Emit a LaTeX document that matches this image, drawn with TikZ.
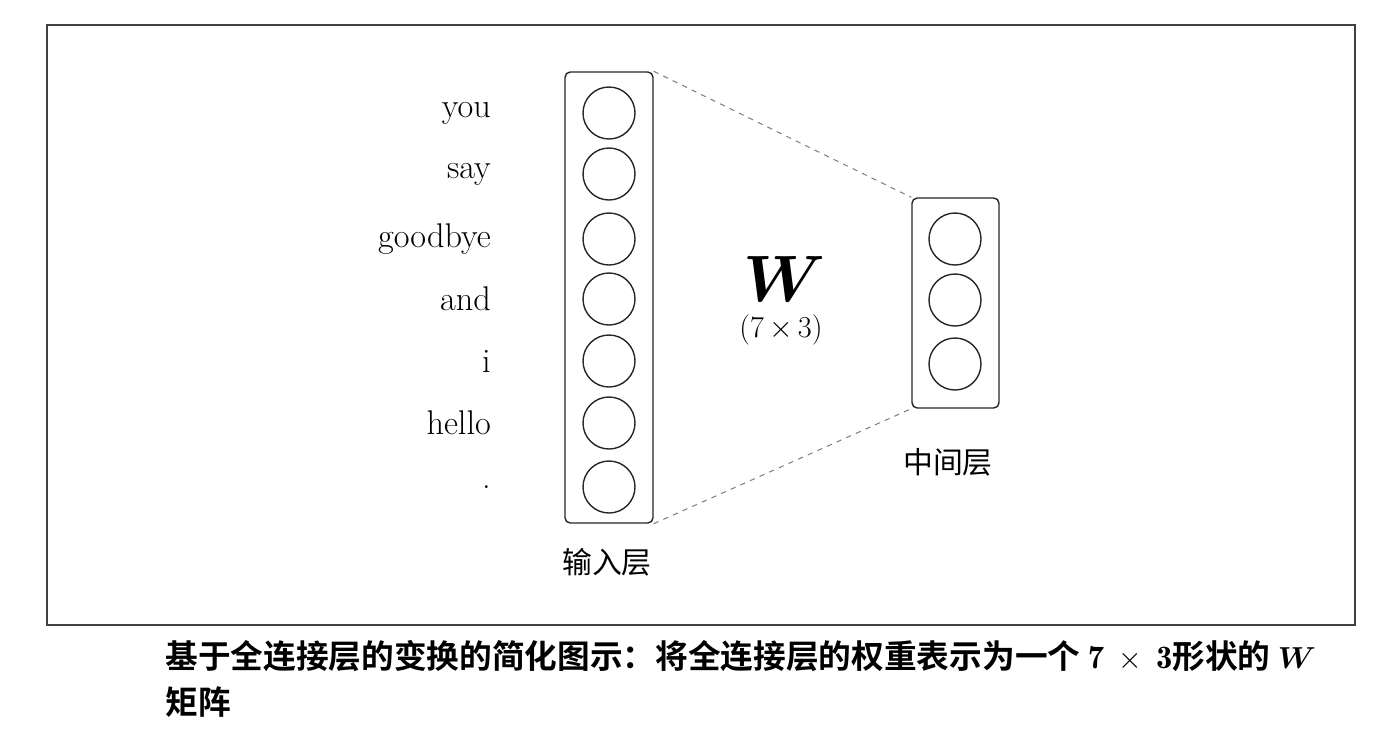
\documentclass[tikz,border=0pt]{standalone}
\usepackage{fontspec}
\newfontfamily\cjk{Noto Sans CJK SC}
\newfontfamily\cjkb{Noto Sans CJK SC Bold}
\usepackage{amsmath,bm}
\begin{document}
\begin{tikzpicture}[x=0.02cm,y=-0.02cm,
  unit/.style={draw=black!85,line width=0.8pt,circle,minimum size=52*0.02cm,inner sep=0pt},
  layerbox/.style={draw=black!85,line width=0.8pt,rounded corners=3pt},
  word/.style={anchor=east,font=\fontsize{19.5}{21}\selectfont},
  conn/.style={dashed,draw=black!50,line width=0.6pt},
  cjklab/.style={font=\cjk\fontsize{17}{19}\selectfont}]
\useasboundingbox (0,0) rectangle (1376,748);
\draw[black!75,line width=0.8pt] (47,25) rectangle (1355,625);
% input layer
\node[layerbox,minimum width=88*0.02cm,minimum height=451*0.02cm,inner sep=0pt] (inbox) at (609,297.5) {};
\foreach \i/\y/\w in {1/113/you,2/174/say,3/239/goodbye,4/299/and,5/361/i,6/423/hello,7/487/.}{
  \node[unit] (in\i) at (609,\y) {};
  \node[word] (w\i) at (497,\y) {\w};
}
% middle layer
\node[layerbox,minimum width=87*0.02cm,minimum height=210*0.02cm,inner sep=0pt] (midbox) at (955.5,303) {};
\foreach \i/\y in {1/239,2/300,3/364}{
  \node[unit] (m\i) at (955,\y) {};
}
\draw[conn] (inbox.north east) -- (midbox.north west);
\draw[conn] (inbox.south east) -- (midbox.south west);
\node (W) at (785,279) {\scalebox{1.5}{\fontsize{24.88}{26}\selectfont$\bm{W}$}};
\node (dim) at (781,330) {\fontsize{19}{21}\selectfont$(7\,{\times}\,3)$};
\node[cjklab] (inlab) at (607,562) {输入层};
\node[cjklab] (midlab) at (948,462) {中间层};
% caption
\node[anchor=west,font=\cjkb\fontsize{18.6}{20}\selectfont,inner sep=0pt] (cap1) at (165,656) {基于全连接层的变换的简化图示：将全连接层的权重表示为一个 $\mathbf{7}\ \times\ \mathbf{3}$形状的 $\bm{W}$};
\node[anchor=west,font=\cjkb\fontsize{18.6}{20}\selectfont,inner sep=0pt] (cap2) at (165,702) {矩阵};
\end{tikzpicture}
\end{document}
